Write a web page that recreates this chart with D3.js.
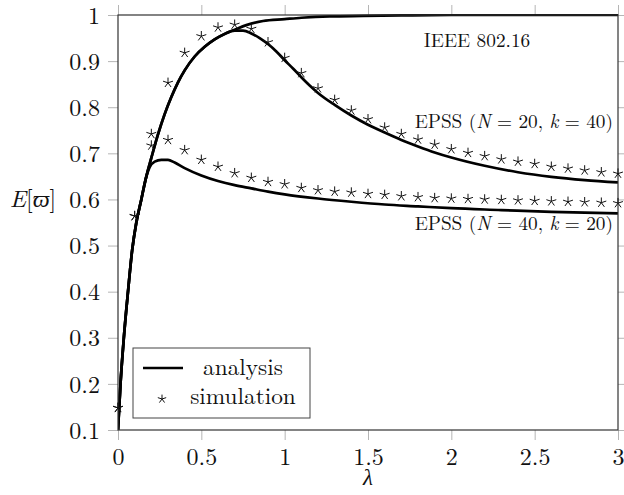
<!DOCTYPE html>
<html>
<head>
<meta charset="utf-8">
<script src="https://cdn.jsdelivr.net/npm/d3@7"></script>
<style>
  html, body { margin: 0; padding: 0; background: #fff; }
  svg { display: block; }
  svg text { font-family: "Latin Modern Roman", "Liberation Serif", serif; fill: #111; }
</style>
</head>
<body>
<svg id="chart" width="624" height="495"></svg>
<script>
// ---------- data ----------
const xTicks = [0, 0.5, 1, 1.5, 2, 2.5, 3];
const xTickLabels = ["0", "0.5", "1", "1.5", "2", "2.5", "3"];
const yTicks = [0.1, 0.2, 0.3, 0.4, 0.5, 0.6, 0.7, 0.8, 0.9, 1];
const yTickLabels = ["0.1", "0.2", "0.3", "0.4", "0.5", "0.6", "0.7", "0.8", "0.9", "1"];

// analysis: IEEE 802.16
const ieeeLambda = [0, 0.015, 0.035, 0.06, 0.085, 0.11, 0.14, 0.17, 0.2, 0.24, 0.28, 0.32, 0.36, 0.4, 0.46, 0.52, 0.58, 0.64, 0.7, 0.77, 0.87, 1.0, 1.1, 1.27, 1.47, 1.7, 2.0, 2.5, 3.0];
const ieeeValue  = [0.1, 0.2, 0.3, 0.4, 0.49, 0.55, 0.6, 0.65, 0.69, 0.741, 0.785, 0.822, 0.854, 0.88, 0.91, 0.931, 0.947, 0.959, 0.968, 0.978, 0.987, 0.991, 0.994, 0.997, 0.998, 0.999, 1.0, 1.0, 1.0];

// analysis: EPSS (N = 20, k = 40)
const epss20Lambda = [0, 0.015, 0.035, 0.06, 0.085, 0.11, 0.14, 0.17, 0.2, 0.24, 0.28, 0.32, 0.36, 0.4, 0.46, 0.52, 0.58, 0.64, 0.7, 0.75, 0.8, 0.85, 0.9, 0.95, 1.0, 1.05, 1.1, 1.15, 1.2, 1.3, 1.4, 1.5, 1.6, 1.7, 1.8, 1.9, 2.0, 2.2, 2.4, 2.6, 2.8, 3.0];
const epss20Value  = [0.1, 0.2, 0.3, 0.4, 0.49, 0.55, 0.6, 0.65, 0.69, 0.741, 0.785, 0.822, 0.854, 0.88, 0.91, 0.931, 0.947, 0.959, 0.966, 0.966, 0.960, 0.950, 0.937, 0.921, 0.902, 0.884, 0.865, 0.847, 0.831, 0.805, 0.782, 0.762, 0.745, 0.729, 0.715, 0.702, 0.691, 0.673, 0.659, 0.649, 0.642, 0.637];

// analysis: EPSS (N = 40, k = 20)
const epss40Lambda = [0, 0.015, 0.035, 0.06, 0.085, 0.11, 0.14, 0.16, 0.19, 0.22, 0.26, 0.3, 0.34, 0.4, 0.5, 0.6, 0.7, 0.8, 0.9, 1.0, 1.2, 1.4, 1.6, 1.8, 2.0, 2.3, 2.6, 3.0];
const epss40Value  = [0.1, 0.2, 0.3, 0.4, 0.49, 0.55, 0.6, 0.635, 0.670, 0.682, 0.686, 0.686, 0.680, 0.668, 0.652, 0.640, 0.631, 0.624, 0.617, 0.611, 0.602, 0.595, 0.589, 0.585, 0.581, 0.577, 0.573, 0.570];

// simulation points
const simLambda = [0, 0.1, 0.2, 0.3, 0.4, 0.5, 0.6, 0.7, 0.8, 0.9, 1.0, 1.1, 1.2, 1.3, 1.4, 1.5, 1.6, 1.7, 1.8, 1.9, 2.0, 2.1, 2.2, 2.3, 2.4, 2.5, 2.6, 2.7, 2.8, 2.9, 3.0];
const sim20Value = [0.148, 0.564, 0.742, 0.853, 0.918, 0.954, 0.973, 0.979, 0.970, 0.941, 0.907, 0.874, 0.841, 0.816, 0.793, 0.774, 0.756, 0.742, 0.730, 0.719, 0.709, 0.701, 0.694, 0.687, 0.682, 0.677, 0.671, 0.667, 0.663, 0.659, 0.656];
const sim40Value = [0.148, 0.564, 0.717, 0.729, 0.707, 0.686, 0.671, 0.657, 0.647, 0.638, 0.633, 0.625, 0.620, 0.617, 0.615, 0.612, 0.610, 0.607, 0.605, 0.603, 0.602, 0.601, 0.600, 0.599, 0.598, 0.597, 0.596, 0.595, 0.594, 0.593, 0.592];

const annotations = ["IEEE 802.16", "EPSS (N = 20, k = 40)", "EPSS (N = 40, k = 20)"];
const legendLabels = ["analysis", "simulation"];

// ---------- layout ----------
const FONT = '"Latin Modern Roman", "Liberation Serif", serif';
const svg = d3.select("#chart").style("font-family", FONT);
const L = 118, R = 618, T = 15, B = 430;
const x = d3.scaleLinear().domain([0, 3]).range([L, R]);
const y = d3.scaleLinear().domain([0.1, 1]).range([B, T]);

const tickColor = "#b5b5b5";
const tickLen = 10;

function styleAxis(g) {
  g.attr("font-family", null).attr("font-size", null);
  g.select(".domain").remove();
  g.selectAll(".tick line").attr("stroke", tickColor).attr("stroke-width", 1);
}

// bottom axis with labels
const gx = svg.append("g").attr("transform", `translate(0,${B})`)
  .call(d3.axisBottom(x).tickValues(xTicks).tickSize(tickLen).tickSizeOuter(0)
    .tickFormat((d, i) => xTickLabels[i]));
styleAxis(gx);
gx.selectAll(".tick text").style("font-family", FONT).attr("font-size", 24)
  .attr("fill", "#111").attr("y", 0).attr("dy", "34.5px");

// top axis ticks
const gxt = svg.append("g").attr("transform", `translate(0,${T})`)
  .call(d3.axisTop(x).tickValues(xTicks).tickSize(tickLen).tickSizeOuter(0).tickFormat(""));
styleAxis(gxt);

// left axis with labels
const gy = svg.append("g").attr("transform", `translate(${L},0)`)
  .call(d3.axisLeft(y).tickValues(yTicks).tickSize(tickLen).tickSizeOuter(0)
    .tickFormat((d, i) => yTickLabels[i]));
styleAxis(gy);
gy.selectAll(".tick text").style("font-family", FONT).attr("font-size", 24)
  .attr("fill", "#111").attr("x", -18).attr("dy", "0.34em");

// right axis ticks
const gyr = svg.append("g").attr("transform", `translate(${R},0)`)
  .call(d3.axisRight(y).tickValues(yTicks).tickSize(tickLen).tickSizeOuter(0).tickFormat(""));
styleAxis(gyr);

// clip for lines
svg.append("clipPath").attr("id", "plotclip")
  .append("rect").attr("x", L).attr("y", T - 1).attr("width", R - L).attr("height", B - T + 1);

const line = d3.line().x(d => x(d[0])).y(d => y(d[1])).curve(d3.curveMonotoneX);
const curves = [
  d3.zip(epss40Lambda, epss40Value),
  d3.zip(epss20Lambda, epss20Value),
  d3.zip(ieeeLambda, ieeeValue)
];
const gLines = svg.append("g").attr("clip-path", "url(#plotclip)");
gLines.selectAll("path.curve").data(curves).enter().append("path")
  .attr("class", "curve")
  .attr("d", line)
  .attr("fill", "none")
  .attr("stroke", "#000")
  .attr("stroke-width", 2.7)
  .attr("stroke-linejoin", "round");

// frame
svg.append("rect").attr("x", L).attr("y", T).attr("width", R - L).attr("height", B - T)
  .attr("fill", "none").attr("stroke", "#333").attr("stroke-width", 1.2);

// star marker path
function starPath(r) {
  let p = "";
  for (let k = 0; k < 5; k++) {
    const a = Math.PI / 2 + k * 2 * Math.PI / 5;
    p += `M0,0L${(r * Math.cos(a)).toFixed(2)},${(-r * Math.sin(a)).toFixed(2)}`;
  }
  return p;
}
const simPoints = d3.zip(simLambda, sim20Value).concat(d3.zip(simLambda, sim40Value));
svg.append("g").selectAll("path.star").data(simPoints).enter().append("path")
  .attr("class", "star")
  .attr("transform", d => `translate(${x(d[0])},${y(d[1])})`)
  .attr("d", starPath(5.2))
  .attr("fill", "none")
  .attr("stroke", "#111")
  .attr("stroke-width", 1);

// annotations
const annFont = 19.3;
svg.append("text").attr("x", 477).attr("y", 47).attr("text-anchor", "middle")
  .attr("font-size", annFont).text(annotations[0]);

function epssLabel(yb, nVal, kVal) {
  const t = svg.append("text").attr("x", 613).attr("y", yb).attr("text-anchor", "end")
    .attr("font-size", annFont);
  t.append("tspan").text("EPSS (");
  t.append("tspan").attr("font-style", "italic").text("N");
  t.append("tspan").text(" = " + nVal + ", ");
  t.append("tspan").attr("font-style", "italic").text("k");
  t.append("tspan").text(" = " + kVal + ")");
}
epssLabel(128, "20", "40");
epssLabel(230, "40", "20");

// axis labels
const yl = svg.append("text").attr("x", 33).attr("y", 207).attr("text-anchor", "middle")
  .attr("font-size", 24);
yl.append("tspan").attr("font-style", "italic").text("E");
yl.append("tspan").text("[");
yl.append("tspan").attr("font-style", "italic").text("ϖ");
yl.append("tspan").text("]");

svg.append("text").attr("x", 368).attr("y", 485).attr("text-anchor", "middle")
  .attr("font-size", 23).attr("font-style", "italic").text("λ");

// legend
const lg = svg.append("g");
lg.append("rect").attr("x", 133).attr("y", 348).attr("width", 177).attr("height", 70)
  .attr("fill", "#fff").attr("stroke", "#444").attr("stroke-width", 1);
lg.append("line").attr("x1", 143).attr("x2", 183).attr("y1", 368).attr("y2", 368)
  .attr("stroke", "#000").attr("stroke-width", 2.7);
lg.append("path").attr("transform", "translate(162,399)").attr("d", starPath(4.4))
  .attr("fill", "none").attr("stroke", "#111").attr("stroke-width", 1);
lg.append("text").attr("x", 243).attr("y", 375).attr("text-anchor", "middle")
  .attr("font-size", 23.3).text(legendLabels[0]);
lg.append("text").attr("x", 243).attr("y", 404).attr("text-anchor", "middle")
  .attr("font-size", 23.3).text(legendLabels[1]);
</script>
</body>
</html>
